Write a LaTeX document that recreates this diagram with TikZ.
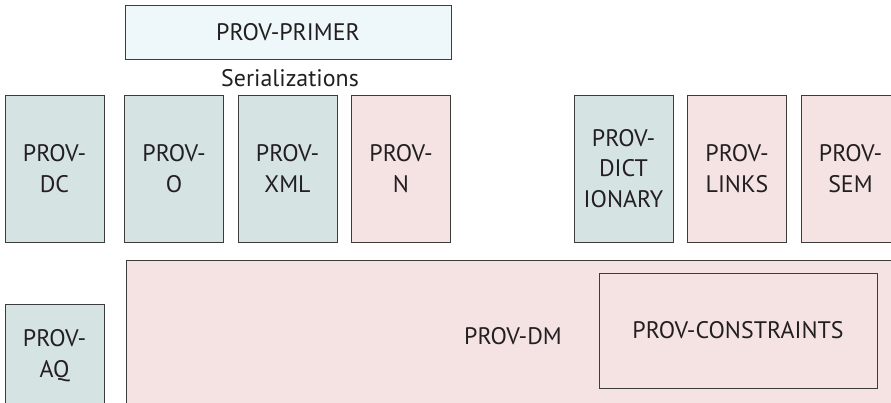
\documentclass[tikz,border=0pt]{standalone}
\usepackage{fontspec}
\setmainfont{PT Sans}
\usetikzlibrary{positioning}
\definecolor{provteal}{HTML}{D5E3E3}
\definecolor{provpink}{HTML}{F5E3E4}
\definecolor{provsky}{HTML}{EEF7FA}
\definecolor{boxline}{HTML}{3C3C3C}
\definecolor{textgrey}{HTML}{231F20}
\tikzstyle{docbox} = [draw=boxline, line width=0.9, align=center,
  inner sep=0, text=textgrey, font=\fontsize{24}{30.5}\selectfont]
\tikzstyle{tallbox} = [docbox, minimum width=99bp, minimum height=147bp]

\begin{document}
\begin{tikzpicture}[x=1bp, y=-1bp]
  \useasboundingbox (0, 0) rectangle (891, 402);
  \clip (0, 0) rectangle (891, 402);

  \path (288, 32) node[docbox, fill=provsky, minimum width=326bp,
    minimum height=54bp] (primer) {PROV-PRIMER};
  \path (290, 78) node[text=textgrey, font=\fontsize{24}{30.5}\selectfont]
    (serial) {Serializations};

  \foreach \x/\name/\txt/\col in {54.5/dc/{PROV-\\DC}/provteal,
    174/o/{PROV-\\O}/provteal, 287.5/xml/{PROV-\\XML}/provteal,
    401/n/{PROV-\\N}/provpink, 623.5/dict/{PROV-\\DICT\\IONARY}/provteal,
    737/links/{PROV-\\LINKS}/provpink, 850.5/sem/{PROV-\\SEM}/provpink} {
    \path (\x, 168.5) node[tallbox, fill=\col] (\name) {\txt};
  }

  \path (513, 336) node[docbox, fill=provpink, minimum width=774bp,
    minimum height=152bp] (dm) {PROV-DM};
  \path (738, 330.5) node[docbox, fill=provpink, minimum width=278bp,
    minimum height=115bp] (constraints) {PROV-CONSTRAINTS};

  \path (54.5, 355.5) node[docbox, fill=provteal, minimum width=99bp,
    minimum height=103bp] (aq) {PROV-\\AQ};
\end{tikzpicture}
\end{document}
